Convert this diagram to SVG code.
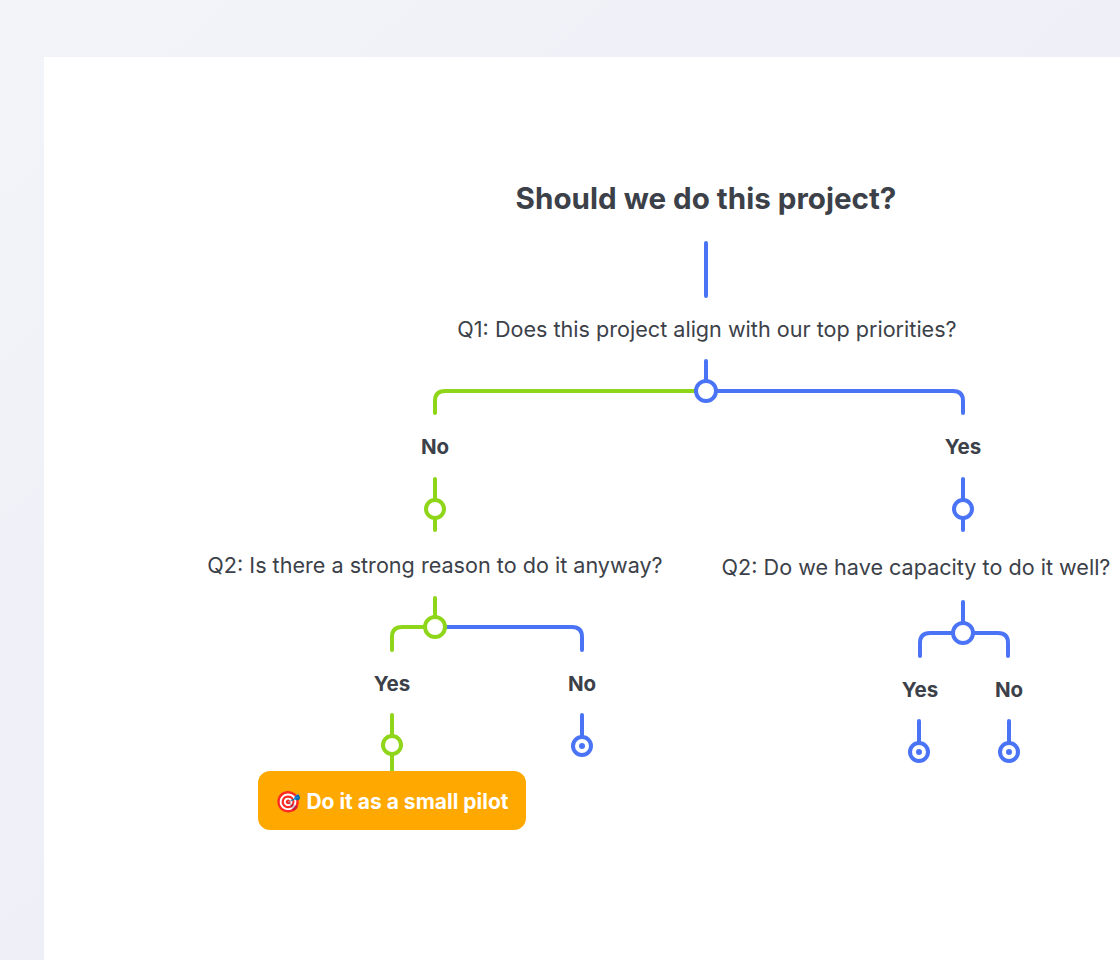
<svg xmlns="http://www.w3.org/2000/svg" width="1120" height="960" viewBox="0 0 1120 960">
<defs>
<linearGradient id="bg" x1="0" y1="0" x2="1" y2="1"><stop offset="0" stop-color="#f3f4f9"/><stop offset="1" stop-color="#e9ebf5"/></linearGradient>
<style>
.t{font-family:Inter,"Liberation Sans",sans-serif;fill:#3c4149;text-anchor:middle}
.q{font-size:21.6px}
.l{font-size:20.5px;font-weight:700}
.g{stroke:#8fd61a;stroke-width:4;fill:none;stroke-linecap:round}
.b{stroke:#4a74f5;stroke-width:4;fill:none;stroke-linecap:round}
.gc{stroke:#8fd61a;stroke-width:4;fill:#fff}
.bc{stroke:#4a74f5;stroke-width:4;fill:#fff}
</style>
</defs>
<rect width="1120" height="960" fill="url(#bg)"/>
<rect x="44" y="57" width="1076" height="903" fill="#fff"/>
<g id="connectors">
<path class="b" d="M706 243V296"/>
<path class="b" d="M706 361V381"/>
<path class="g" d="M696 391H445Q435 391 435 401V413"/>
<path class="b" d="M716 391H953Q963 391 963 401V413"/>
<path class="g" d="M435 479V530"/>
<path class="b" d="M963 479V530"/>
<path class="g" d="M435 598V617"/>
<path class="g" d="M425 627H402Q392 627 392 637V650"/>
<path class="b" d="M445 627H572Q582 627 582 637V650"/>
<path class="g" d="M392 715V771"/>
<path class="b" d="M582 715V737"/>
<path class="b" d="M963 602V623"/>
<path class="b" d="M953 633H930Q920 633 920 643V656"/>
<path class="b" d="M973 633H998Q1008 633 1008 643V656"/>
<path class="b" d="M919 721V743"/>
<path class="b" d="M1009 721V743"/>
<circle class="bc" cx="706" cy="391" r="10"/>
<circle class="gc" cx="435" cy="509" r="9"/>
<circle class="bc" cx="963" cy="509" r="9"/>
<circle class="gc" cx="435" cy="627" r="10"/>
<circle class="bc" cx="963" cy="633" r="10"/>
<circle class="gc" cx="392" cy="745" r="9"/>
<circle class="bc" cx="582" cy="746" r="9"/><circle cx="582" cy="746" r="3" fill="#4a74f5"/>
<circle class="bc" cx="919" cy="752" r="9"/><circle cx="919" cy="752" r="3" fill="#4a74f5"/>
<circle class="bc" cx="1009" cy="752" r="9"/><circle cx="1009" cy="752" r="3" fill="#4a74f5"/>
</g>
<g id="title"><text class="t" x="706" y="209" font-size="29.6" font-weight="700">Should we do this project?</text></g>
<g id="q1"><text class="t q" x="707" y="337">Q1: Does this project align with our top priorities?</text></g>
<g id="no1"><text class="t l" x="435" y="454">No</text></g>
<g id="yes1"><text class="t l" x="963" y="454">Yes</text></g>
<g id="q2a"><text class="t q" x="435" y="573">Q2: Is there a strong reason to do it anyway?</text></g>
<g id="q2b"><text class="t q" x="916" y="575">Q2: Do we have capacity to do it well?</text></g>
<g id="yes2"><text class="t l" x="392" y="691">Yes</text></g>
<g id="no2"><text class="t l" x="582" y="691">No</text></g>
<g id="yes3"><text class="t l" x="920" y="697">Yes</text></g>
<g id="no3"><text class="t l" x="1009" y="697">No</text></g>
<g id="pilot">
<rect x="258" y="771" width="268" height="59" rx="12" fill="#ffa800"/>
<text class="t" x="392" y="809" font-size="21" font-weight="700" style="fill:#fff">🎯 Do it as a small pilot</text>
</g>
</svg>
